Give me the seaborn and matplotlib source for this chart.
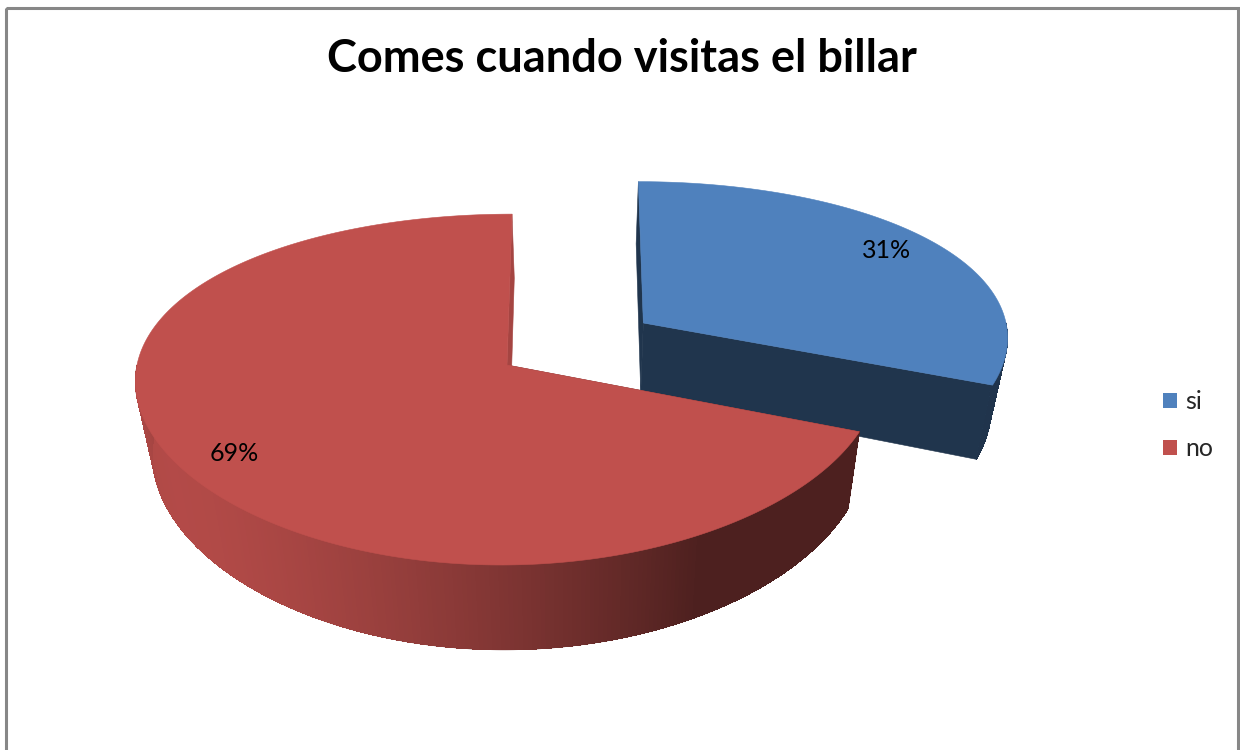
import numpy as np
import matplotlib
matplotlib.use("Agg")
import matplotlib.pyplot as plt
import matplotlib.colors as mcolors
from matplotlib.patches import Polygon, Rectangle, Patch
import seaborn as sns

# ---- data ----
title = "Comes cuando visitas el billar"
categories = ["si", "no"]
percentages = [31, 69]
explode = [0.45, 0.0]
slice_colors = ["#4F81BD", "#C0504D"]

sns.set_theme(style="white")
plt.rcParams["font.family"] = ["Lato", "DejaVu Sans"]

FIG_W, FIG_H = 1240, 750
fig = plt.figure(figsize=(FIG_W / 100, FIG_H / 100), dpi=100)
ax = fig.add_axes([0, 0, 1, 1])
ax.set_xlim(0, FIG_W)
ax.set_ylim(FIG_H, 0)
ax.axis("off")

# ---- tilted-disc projection (pixel space) ----
CX, CY = 507, 365      # centre of the pie top
RX, RY = 370, 172      # horizontal radius / foreshortened depth radius
THICK = 73             # height of the pie wall
K_Y = 0.14             # vertical perspective along depth
K_X = 0.08             # horizontal perspective along depth
K_ZX = 0.04            # slight convergence of vertical edges
VX = 575               # horizontal vanishing column


def project(X, Y, Z):
    X = np.asarray(X, float)
    Y = np.asarray(Y, float)
    s = 1.0 / (1.0 + K_Y * Y)
    sx = 1.0 / (1.0 + K_X * Y - K_ZX * Z)
    x = VX + (CX + RX * X - VX) * sx
    y = CY - (RY * Y + THICK * Z) * s
    return np.column_stack([np.atleast_1d(x), np.atleast_1d(y)])


def shade(color, f):
    r, g, b = mcolors.to_rgb(color)
    return (r * f, g * f, b * f)


def face(pts, color, z):
    ax.add_patch(Polygon(pts, closed=True, fc=color, ec=color, lw=0.4,
                         zorder=z, joinstyle="round"))


fracs = np.asarray(percentages, float) / np.sum(percentages)
edges = np.concatenate([[0.0], np.cumsum(fracs) * 360.0])

slices = []
for i in range(len(categories)):
    t0, t1 = edges[i], edges[i + 1]
    tm = np.radians((t0 + t1) / 2)
    ox, oy = explode[i] * np.sin(tm), explode[i] * np.cos(tm)
    slices.append((i, t0, t1, tm, ox, oy))

# farther slices first
order = sorted(slices, key=lambda s: -s[5])
for z, (i, t0, t1, tm, ox, oy) in enumerate(order):
    col = slice_colors[i]
    base = 10 * z
    # radial cut faces
    for ang, sign in ((t0, -1), (t1, 1)):
        a = np.radians(ang)
        nx = np.sin(a + sign * np.pi / 2)
        px, py = ox + np.sin(a), oy + np.cos(a)
        quad = np.vstack([project(ox, oy, 0), project(px, py, 0),
                          project(px, py, -1), project(ox, oy, -1)])
        face(quad, shade(col, 0.41 + 0.45 * max(0.0, nx)), base + 1)
    # curved outer wall, front half only
    lo, hi = max(t0, 90.0), min(t1, 270.0)
    if hi > lo:
        tw = np.radians(np.linspace(lo, hi, 240))
        wx, wy = ox + np.sin(tw), oy + np.cos(tw)
        top = project(wx, wy, 0)
        bot = project(wx, wy, -1)
        # smooth outline underneath the shaded strips
        outline = np.vstack([top, bot[::-1]])
        face(outline, shade(col, 0.55), base + 1.5)
        for j in range(len(tw) - 1):
            mid = np.degrees(0.5 * (tw[j] + tw[j + 1]))
            f = 0.40 + 0.53 * max(0.0, np.cos(np.radians(mid - 240.0)))
            quad = np.vstack([top[j], top[j + 1], bot[j + 1], bot[j]])
            ax.add_patch(Polygon(quad, closed=True, fc=shade(col, f),
                                 ec="none", lw=0, zorder=base + 2,
                                 antialiased=False))
    # top face
    tt = np.radians(np.linspace(t0, t1, 300))
    rim = project(ox + np.sin(tt), oy + np.cos(tt), 0)
    poly = np.vstack([project(ox, oy, 0), rim])
    face(poly, col, base + 3)
    # percentage label
    lx, ly = ox + 0.85 * np.sin(tm), oy + 0.85 * np.cos(tm)
    p = project(lx, ly, 0)[0]
    ax.text(p[0], p[1], f"{percentages[i]}%", ha="center", va="center",
            fontsize=18, color="black", zorder=100)

# ---- title ----
ax.text(622, 59, title, ha="center", va="center", fontsize=32.5,
        fontweight="bold", color="black", zorder=100)

# ---- legend ----
handles = [Patch(facecolor=c, edgecolor="none") for c in slice_colors]
ax.legend(handles, categories, loc="center left",
          bbox_to_anchor=(1163 / FIG_W, 1 - 425 / FIG_H),
          frameon=False, fontsize=18, handlelength=0.55, handleheight=0.55,
          handletextpad=0.35, labelspacing=0.95, borderpad=0, borderaxespad=0)

# ---- chart-area frame ----
ax.add_patch(Rectangle((6, 8), 1232, 760, fill=False, ec="#878787", lw=2.2,
                       clip_on=False, zorder=200))

fig.savefig("out.png", dpi=100)
